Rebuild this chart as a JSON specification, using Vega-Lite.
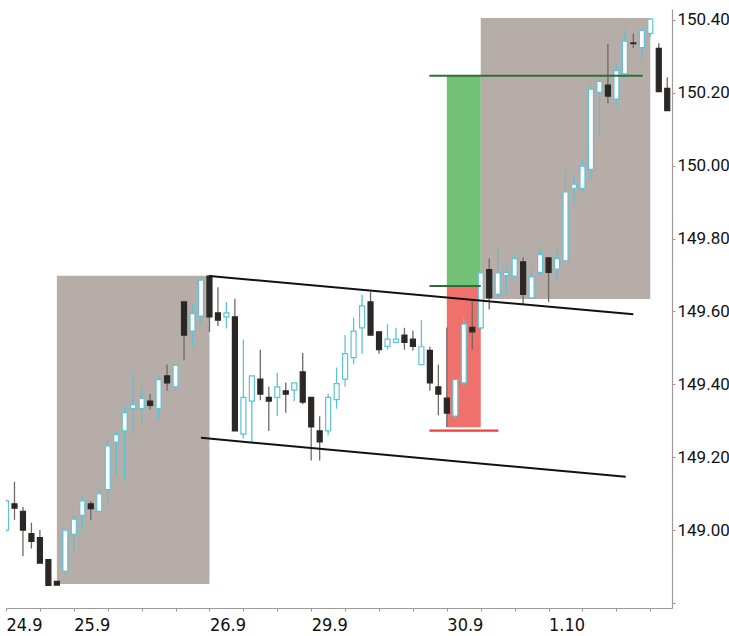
{
  "$schema": "https://vega.github.io/schema/vega-lite/v6.json",
  "width": 666,
  "height": 599,
  "autosize": {"type": "none"},
  "padding": {"left": 6, "top": 9, "right": 57, "bottom": 28},
  "background": "white",
  "config": {
    "view": {"stroke": null},
    "axis": {"labelOverlap": false, "labelBound": false, "labelFlush": false, "grid": false, "title": null},
    "scale": {"continuousPadding": 0}
  },
  "resolve": {"axis": {"x": "independent"}},
  "datasets": {
    "gray": [
      {"a": 6, "b": 24, "lo": 148.852, "hi": 149.698},
      {"a": 56, "b": 76, "lo": 149.634, "hi": 150.405}
    ],
    "green": [{"a": 52, "b": 56, "lo": 149.670, "hi": 150.247}],
    "red": [{"a": 52, "b": 56, "lo": 149.282, "hi": 149.670}],
    "trend": [
      {"a": 24, "b": 74, "p": 149.697, "q": 149.592},
      {"a": 23, "b": 73.1, "p": 149.253, "q": 149.146}
    ],
    "greenlines": [
      {"a": 49.95, "b": 75.1, "p": 150.247, "q": 150.247},
      {"a": 49.95, "b": 56, "p": 149.670, "q": 149.670}
    ],
    "redline": [{"a": 49.95, "b": 58.08, "p": 149.273, "q": 149.273}],
    "candles": [
      {"i": 0, "o": 149.000, "h": 149.085, "l": 148.995, "c": 149.080, "d": "up"},
      {"i": 1, "o": 149.072, "h": 149.132, "l": 149.028, "c": 149.060, "d": "down"},
      {"i": 2, "o": 149.051, "h": 149.063, "l": 148.928, "c": 149.000, "d": "down"},
      {"i": 3, "o": 148.990, "h": 149.020, "l": 148.949, "c": 148.969, "d": "down"},
      {"i": 4, "o": 148.979, "h": 149.000, "l": 148.909, "c": 148.909, "d": "down"},
      {"i": 5, "o": 148.919, "h": 148.919, "l": 148.848, "c": 148.848, "d": "down"},
      {"i": 6, "o": 148.859, "h": 148.859, "l": 148.849, "c": 148.849, "d": "down"},
      {"i": 7, "o": 148.887, "h": 149.000, "l": 148.878, "c": 149.000, "d": "up"},
      {"i": 8, "o": 148.988, "h": 149.040, "l": 148.937, "c": 149.030, "d": "up"},
      {"i": 9, "o": 149.040, "h": 149.090, "l": 149.000, "c": 149.080, "d": "up"},
      {"i": 10, "o": 149.072, "h": 149.080, "l": 149.028, "c": 149.059, "d": "down"},
      {"i": 11, "o": 149.051, "h": 149.111, "l": 149.051, "c": 149.100, "d": "up"},
      {"i": 12, "o": 149.111, "h": 149.251, "l": 149.072, "c": 149.231, "d": "up"},
      {"i": 13, "o": 149.241, "h": 149.272, "l": 149.152, "c": 149.262, "d": "up"},
      {"i": 14, "o": 149.272, "h": 149.342, "l": 149.132, "c": 149.322, "d": "up"},
      {"i": 15, "o": 149.333, "h": 149.432, "l": 149.262, "c": 149.344, "d": "up"},
      {"i": 16, "o": 149.333, "h": 149.393, "l": 149.292, "c": 149.361, "d": "up"},
      {"i": 17, "o": 149.354, "h": 149.373, "l": 149.331, "c": 149.342, "d": "down"},
      {"i": 18, "o": 149.333, "h": 149.425, "l": 149.303, "c": 149.413, "d": "up"},
      {"i": 19, "o": 149.423, "h": 149.454, "l": 149.382, "c": 149.404, "d": "down"},
      {"i": 20, "o": 149.393, "h": 149.452, "l": 149.382, "c": 149.452, "d": "up"},
      {"i": 21, "o": 149.626, "h": 149.626, "l": 149.466, "c": 149.535, "d": "down"},
      {"i": 22, "o": 149.546, "h": 149.622, "l": 149.503, "c": 149.594, "d": "up"},
      {"i": 23, "o": 149.587, "h": 149.695, "l": 149.567, "c": 149.686, "d": "up"},
      {"i": 24, "o": 149.697, "h": 149.700, "l": 149.544, "c": 149.585, "d": "down"},
      {"i": 25, "o": 149.596, "h": 149.666, "l": 149.560, "c": 149.576, "d": "down"},
      {"i": 26, "o": 149.585, "h": 149.626, "l": 149.553, "c": 149.596, "d": "up"},
      {"i": 27, "o": 149.585, "h": 149.635, "l": 149.272, "c": 149.272, "d": "down"},
      {"i": 28, "o": 149.263, "h": 149.523, "l": 149.251, "c": 149.364, "d": "up"},
      {"i": 29, "o": 149.354, "h": 149.423, "l": 149.242, "c": 149.423, "d": "up"},
      {"i": 30, "o": 149.414, "h": 149.495, "l": 149.356, "c": 149.373, "d": "down"},
      {"i": 31, "o": 149.364, "h": 149.393, "l": 149.272, "c": 149.354, "d": "down"},
      {"i": 32, "o": 149.364, "h": 149.432, "l": 149.313, "c": 149.393, "d": "up"},
      {"i": 33, "o": 149.382, "h": 149.405, "l": 149.322, "c": 149.373, "d": "down"},
      {"i": 34, "o": 149.384, "h": 149.404, "l": 149.354, "c": 149.404, "d": "up"},
      {"i": 35, "o": 149.434, "h": 149.486, "l": 149.345, "c": 149.351, "d": "down"},
      {"i": 36, "o": 149.364, "h": 149.364, "l": 149.191, "c": 149.283, "d": "down"},
      {"i": 37, "o": 149.272, "h": 149.312, "l": 149.191, "c": 149.242, "d": "down"},
      {"i": 38, "o": 149.272, "h": 149.375, "l": 149.260, "c": 149.364, "d": "up"},
      {"i": 39, "o": 149.358, "h": 149.446, "l": 149.333, "c": 149.402, "d": "up"},
      {"i": 40, "o": 149.414, "h": 149.535, "l": 149.393, "c": 149.484, "d": "up"},
      {"i": 41, "o": 149.473, "h": 149.583, "l": 149.455, "c": 149.546, "d": "up"},
      {"i": 42, "o": 149.555, "h": 149.646, "l": 149.484, "c": 149.615, "d": "up"},
      {"i": 43, "o": 149.626, "h": 149.654, "l": 149.535, "c": 149.535, "d": "down"},
      {"i": 44, "o": 149.544, "h": 149.544, "l": 149.484, "c": 149.495, "d": "down"},
      {"i": 45, "o": 149.504, "h": 149.565, "l": 149.495, "c": 149.524, "d": "up"},
      {"i": 46, "o": 149.515, "h": 149.555, "l": 149.515, "c": 149.524, "d": "up"},
      {"i": 47, "o": 149.535, "h": 149.555, "l": 149.495, "c": 149.515, "d": "down"},
      {"i": 48, "o": 149.524, "h": 149.547, "l": 149.493, "c": 149.504, "d": "down"},
      {"i": 49, "o": 149.454, "h": 149.576, "l": 149.454, "c": 149.503, "d": "up"},
      {"i": 50, "o": 149.493, "h": 149.503, "l": 149.382, "c": 149.404, "d": "down"},
      {"i": 51, "o": 149.393, "h": 149.454, "l": 149.315, "c": 149.373, "d": "down"},
      {"i": 52, "o": 149.362, "h": 149.556, "l": 149.283, "c": 149.321, "d": "down"},
      {"i": 53, "o": 149.313, "h": 149.413, "l": 149.306, "c": 149.413, "d": "up"},
      {"i": 54, "o": 149.404, "h": 149.585, "l": 149.393, "c": 149.565, "d": "up"},
      {"i": 55, "o": 149.556, "h": 149.631, "l": 149.495, "c": 149.544, "d": "down"},
      {"i": 56, "o": 149.555, "h": 149.706, "l": 149.548, "c": 149.706, "d": "up"},
      {"i": 57, "o": 149.715, "h": 149.745, "l": 149.605, "c": 149.637, "d": "down"},
      {"i": 58, "o": 149.647, "h": 149.777, "l": 149.635, "c": 149.706, "d": "up"},
      {"i": 59, "o": 149.698, "h": 149.727, "l": 149.647, "c": 149.707, "d": "up"},
      {"i": 60, "o": 149.697, "h": 149.757, "l": 149.697, "c": 149.745, "d": "up"},
      {"i": 61, "o": 149.736, "h": 149.748, "l": 149.620, "c": 149.647, "d": "down"},
      {"i": 62, "o": 149.637, "h": 149.715, "l": 149.637, "c": 149.695, "d": "up"},
      {"i": 63, "o": 149.707, "h": 149.777, "l": 149.697, "c": 149.756, "d": "up"},
      {"i": 64, "o": 149.747, "h": 149.747, "l": 149.626, "c": 149.707, "d": "down"},
      {"i": 65, "o": 149.716, "h": 149.768, "l": 149.686, "c": 149.745, "d": "up"},
      {"i": 66, "o": 149.739, "h": 149.988, "l": 149.739, "c": 149.928, "d": "up"},
      {"i": 67, "o": 149.938, "h": 149.970, "l": 149.899, "c": 149.949, "d": "up"},
      {"i": 68, "o": 149.938, "h": 150.018, "l": 149.928, "c": 149.999, "d": "up"},
      {"i": 69, "o": 149.990, "h": 150.221, "l": 149.960, "c": 150.210, "d": "up"},
      {"i": 70, "o": 150.201, "h": 150.240, "l": 150.079, "c": 150.231, "d": "up"},
      {"i": 71, "o": 150.221, "h": 150.334, "l": 150.171, "c": 150.191, "d": "down"},
      {"i": 72, "o": 150.183, "h": 150.283, "l": 150.162, "c": 150.261, "d": "up"},
      {"i": 73, "o": 150.252, "h": 150.373, "l": 150.243, "c": 150.342, "d": "up"},
      {"i": 74, "o": 150.337, "h": 150.363, "l": 150.322, "c": 150.335, "d": "down"},
      {"i": 75, "o": 150.324, "h": 150.373, "l": 150.292, "c": 150.371, "d": "up"},
      {"i": 76, "o": 150.363, "h": 150.402, "l": 150.354, "c": 150.402, "d": "up"},
      {"i": 77, "o": 150.322, "h": 150.336, "l": 150.203, "c": 150.203, "d": "down"},
      {"i": 78, "o": 150.212, "h": 150.243, "l": 150.151, "c": 150.151, "d": "down"}
    ]
  },
  "layer": [
    {
      "data": {"name": "gray"},
      "mark": {"type": "rect", "color": "#b6ada8", "opacity": 1},
      "encoding": {
        "x": {
          "field": "a", "type": "quantitative",
          "scale": {"domain": [0, 78.56], "nice": false, "zero": false, "padding": 0},
          "axis": {
            "orient": "bottom",
            "values": [0, 8, 24, 36, 52, 64],
            "labelExpr": "datum.value == 0 ? '24.9' : datum.value == 8 ? '25.9' : datum.value == 24 ? '26.9' : datum.value == 36 ? '29.9' : datum.value == 52 ? '30.9' : '1.10'",
            "labelAlign": "left", "labelFont": "DejaVu Sans Condensed", "labelFontSize": 18,
            "labelColor": "#111111", "labelPadding": 5, "labelOverlap": false,
            "tickSize": 3, "tickColor": "#9a9a9a", "domainColor": "#9a9a9a", "domainWidth": 1.2
          }
        },
        "x2": {"field": "b"},
        "y": {
          "field": "lo", "type": "quantitative",
          "scale": {"domain": [148.786, 150.43], "nice": false, "zero": false, "padding": 0},
          "axis": {
            "orient": "right",
            "values": [148.8, 148.85, 148.9, 148.95, 149.0, 149.05, 149.1, 149.15, 149.2, 149.25, 149.3, 149.35, 149.4, 149.45, 149.5, 149.55, 149.6, 149.65, 149.7, 149.75, 149.8, 149.85, 149.9, 149.95, 150.0, 150.05, 150.1, 150.15, 150.2, 150.25, 150.3, 150.35, 150.4],
            "labelExpr": "datum.value > 148.9 && abs(round(datum.value * 100)) % 20 == 0 ? format(datum.value, '.2f') : ''",
            "labelFont": "Roboto", "labelFontSize": 17, "labelColor": "#111111", "labelPadding": 2, "labelOverlap": false,
            "tickSize": 3, "tickColor": "#9a9a9a", "domainColor": "#9a9a9a", "domainWidth": 1.2
          }
        },
        "y2": {"field": "hi"}
      }
    },
    {
      "data": {"name": "green"},
      "mark": {"type": "rect", "color": "#72c176", "opacity": 1},
      "encoding": {
        "x": {
          "field": "a", "type": "quantitative",
          "axis": {
            "orient": "bottom",
            "values": [4, 12, 16, 20, 28, 32, 40, 44, 48, 56, 60, 68, 72, 76],
            "labels": false, "domain": false,
            "tickSize": 3, "tickColor": "#9a9a9a"
          }
        },
        "x2": {"field": "b"},
        "y": {"field": "lo", "type": "quantitative"},
        "y2": {"field": "hi"}
      }
    },
    {
      "data": {"name": "red"},
      "mark": {"type": "rect", "color": "#f0716b", "opacity": 1},
      "encoding": {
        "x": {"field": "a", "type": "quantitative", "axis": null},
        "x2": {"field": "b"},
        "y": {"field": "lo", "type": "quantitative"},
        "y2": {"field": "hi"}
      }
    },
    {
      "data": {"name": "candles"},
      "mark": {"type": "rule", "strokeWidth": 1.3, "clip": true},
      "encoding": {
        "x": {"field": "i", "type": "quantitative", "axis": null},
        "y": {"field": "l", "type": "quantitative"},
        "y2": {"field": "h"},
        "color": {"field": "d", "type": "nominal", "scale": {"domain": ["up", "down"], "range": ["#5cc3d6", "#6d6967"]}, "legend": null}
      }
    },
    {
      "data": {"name": "candles"},
      "mark": {"type": "bar", "size": 5, "strokeWidth": 1.2, "opacity": 1, "clip": true},
      "encoding": {
        "x": {"field": "i", "type": "quantitative", "axis": null},
        "y": {"field": "o", "type": "quantitative"},
        "y2": {"field": "c"},
        "fill": {"field": "d", "type": "nominal", "scale": {"domain": ["up", "down"], "range": ["#ffffff", "#2b2725"]}, "legend": null},
        "stroke": {"field": "d", "type": "nominal", "scale": {"domain": ["up", "down"], "range": ["#5cc3d6", "#2b2725"]}, "legend": null}
      }
    },
    {
      "data": {"name": "trend"},
      "mark": {"type": "rule", "color": "#111111", "strokeWidth": 2},
      "encoding": {
        "x": {"field": "a", "type": "quantitative", "axis": null},
        "x2": {"field": "b"},
        "y": {"field": "p", "type": "quantitative"},
        "y2": {"field": "q"}
      }
    },
    {
      "data": {"name": "greenlines"},
      "mark": {"type": "rule", "color": "#2f6e3b", "strokeWidth": 2},
      "encoding": {
        "x": {"field": "a", "type": "quantitative", "axis": null},
        "x2": {"field": "b"},
        "y": {"field": "p", "type": "quantitative"},
        "y2": {"field": "q"}
      }
    },
    {
      "data": {"name": "redline"},
      "mark": {"type": "rule", "color": "#e8433b", "strokeWidth": 2.2},
      "encoding": {
        "x": {"field": "a", "type": "quantitative", "axis": null},
        "x2": {"field": "b"},
        "y": {"field": "p", "type": "quantitative"},
        "y2": {"field": "q"}
      }
    }
  ]
}
